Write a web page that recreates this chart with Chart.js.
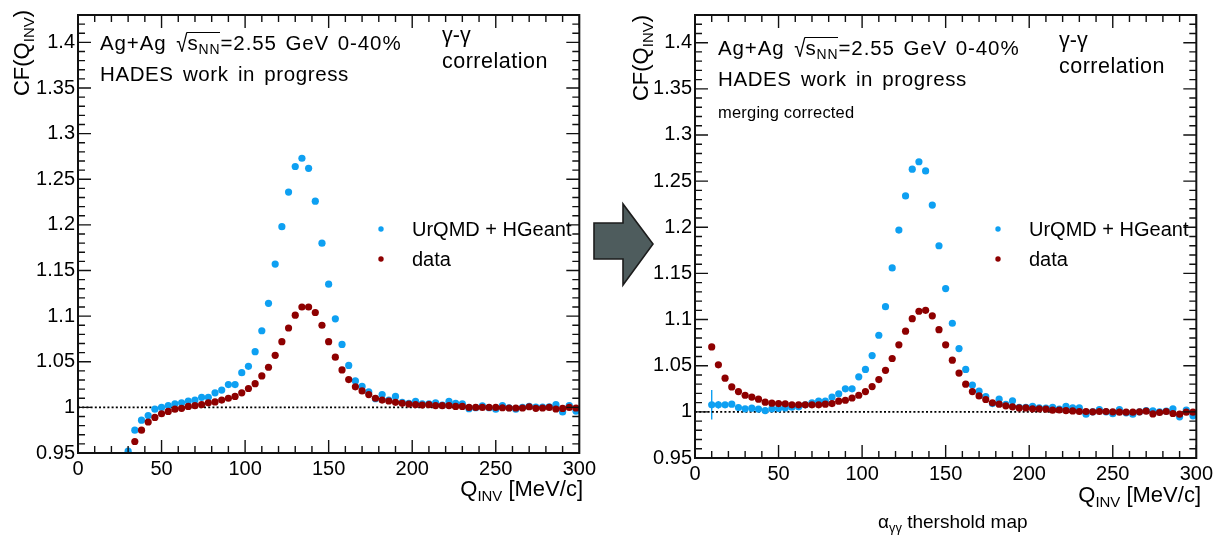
<!DOCTYPE html>
<html>
<head>
<meta charset="utf-8">
<script src="https://cdn.jsdelivr.net/npm/chart.js@4/dist/chart.umd.min.js"></script>
<style>
  html, body { margin: 0; padding: 0; background: #fff; }
  #wrap { position: relative; width: 1217px; height: 535px; overflow: hidden; background: #fff; font-family: "Liberation Sans", Arial, sans-serif; color: #000; }
  canvas { position: absolute; top: 0; }
  .t { position: absolute; white-space: nowrap; }
  .t sub { font-size: 0.68em; vertical-align: -0.32em; line-height: 0; }
  .rad { display: inline-block; transform: scaleY(1.2) translateY(0.04em); margin-left: 1px; }
  .ov { display: inline-block; border-top: 1px solid #000; line-height: 1; padding-top: 0px; margin-left: -1px; }
  #arrow { position: absolute; left: 0; top: 0; }
</style>
</head>
<body>
<div id="wrap">
  <canvas id="cLeft" width="600" height="535" style="left:0px"></canvas>
  <canvas id="cRight" width="607" height="535" style="left:610px"></canvas>
  <svg id="arrow" width="1217" height="535">
    <polygon points="594,223 623,223 623,204 653,244 623,285 623,259 594,259"
             fill="#4e5c5d" stroke="#1c1c1c" stroke-width="1.6" stroke-linejoin="miter"/>
  </svg>
</div>
<script>
// Q_inv bin centres [MeV/c], 4 MeV/c bins
const qBins = [10, 14, 18, 22, 26, 30, 34, 38, 42, 46, 50, 54, 58, 62, 66, 70, 74, 78, 82, 86,
  90, 94, 98, 102, 106, 110, 114, 118, 122, 126, 130, 134, 138, 142, 146, 150, 154, 158, 162, 166,
  170, 174, 178, 182, 186, 190, 194, 198, 202, 206, 210, 214, 218, 222, 226, 230, 234, 238, 242, 246,
  250, 254, 258, 262, 266, 270, 274, 278, 282, 286, 290, 294, 298];

// Left panel: uncorrected CF, bins from 30 MeV/c upward
const qBinsLeft = qBins.slice(5);
const urqmdLeft = [0.952, 0.975, 0.986, 0.991, 0.998, 1.000, 1.002, 1.004, 1.005, 1.007,
  1.008, 1.011, 1.011, 1.016, 1.019, 1.025, 1.025, 1.038, 1.045, 1.061,
  1.084, 1.114, 1.157, 1.198, 1.236, 1.264, 1.273, 1.262, 1.226, 1.180,
  1.135, 1.097, 1.069, 1.046, 1.029, 1.023, 1.017, 1.0095, 1.014, 1.008,
  1.012, 1.0055, 1.0044, 1.0065, 1.004, 1.004, 1.005, 1.0025, 1.0065, 1.0044,
  1.004, 0.9985, 0.9996, 1.0018, 0.9996, 0.998, 1.002, 0.9996, 0.998, 1.000,
  1.001, 1.0004, 1.0004, 1.0007, 1.003, 0.995, 1.002, 0.996];
const dataLeft = [null, 0.9626, 0.975, 0.984, 0.989, 0.993, 0.9956, 0.998, 0.999, 1.001,
  1.002, 1.003, 1.005, 1.006, 1.008, 1.010, 1.012, 1.016, 1.0207, 1.026,
  1.0345, 1.044, 1.057, 1.072, 1.087, 1.101, 1.110, 1.110, 1.104, 1.090,
  1.072, 1.055, 1.041, 1.0305, 1.0225, 1.018, 1.014, 1.010, 1.008, 1.007,
  1.0055, 1.0044, 1.0036, 1.003, 1.0025, 1.003, 1.002, 1.002, 1.002, 1.001,
  1.001, 1.000, 1.000, 1.000, 1.000, 1.000, 0.9996, 0.9993, 0.9993, 0.9993,
  1.0007, 0.999, 0.9993, 1.000, 0.9982, 0.9989, 1.000, 0.9993];

// Right panel: merging corrected CF, all bins from 10 MeV/c
const urqmdRight = [1.0076, 1.0076, 1.0076, 1.0083, 1.0047, 1.0033, 1.004, 1.003, 1.0014, 1.0033,
  1.0036, 1.0043, 1.005, 1.0055, 1.0076, 1.0098, 1.0116, 1.0116, 1.016, 1.0195,
  1.025, 1.025, 1.038, 1.046, 1.061, 1.083, 1.114, 1.156, 1.197, 1.234,
  1.263, 1.271, 1.261, 1.224, 1.180, 1.1336, 1.096, 1.0686, 1.046, 1.029,
  1.0224, 1.0166, 1.009, 1.0137, 1.008, 1.012, 1.005, 1.005, 1.006, 1.0043,
  1.004, 1.005, 1.003, 1.006, 1.0043, 1.0043, 0.9975, 1.000, 1.0025, 1.000,
  0.998, 1.0025, 0.999, 0.9975, 1.000, 1.0014, 1.001, 1.000, 1.0007, 1.0033,
  0.9946, 1.002, 0.9957];
const urqmdErrRight = [0.016, 0.004, 0.002];
const dataRight = [1.0704, 1.051, 1.0365, 1.027, 1.022, 1.018, 1.016, 1.0137, 1.0105, 1.0094,
  1.009, 1.0087, 1.0076, 1.0076, 1.0076, 1.0076, 1.0076, 1.0083, 1.009, 1.0116,
  1.0126, 1.015, 1.018, 1.022, 1.0274, 1.035, 1.045, 1.0578, 1.0726, 1.0874,
  1.101, 1.109, 1.110, 1.104, 1.089, 1.0726, 1.056, 1.042, 1.030, 1.022,
  1.0173, 1.0134, 1.0098, 1.0083, 1.0065, 1.0054, 1.0043, 1.0043, 1.0033, 1.0033,
  1.003, 1.0018, 1.002, 1.0014, 1.001, 1.0004, 1.0004, 1.000, 1.0004, 1.0004,
  1.000, 0.9996, 0.9996, 0.9996, 1.000, 1.0007, 0.9978, 0.9993, 1.0004, 0.9982,
  0.9975, 0.9996, 0.9996];

// axis ticks
const xTicks = [0, 50, 100, 150, 200, 250, 300];
const yTicks = [0.95, 1, 1.05, 1.1, 1.15, 1.2, 1.25, 1.3, 1.35, 1.4];
const xRange = [0, 300];
const yRange = [0.95, 1.43];
const unityLevel = 1;

const BLUE = 'rgb(14,160,242)';
const RED = 'rgb(142,0,0)';
const FONT = '"Liberation Sans", Arial, sans-serif';

// ROOT-style frame with inward major/minor ticks on all four sides
const framePlugin = {
  id: 'rootFrame',
  afterDatasetsDraw(chart) {
    const { ctx, chartArea: a, scales } = chart;
    const xs = scales.x, ys = scales.y;
    const majL = 13, minL = 7;
    ctx.save();
    ctx.strokeStyle = '#111';
    ctx.lineWidth = 1.4;
    ctx.beginPath();
    for (let i = 0; i < xTicks.length; i++) {
      const v = xTicks[i];
      const px = xs.getPixelForValue(v);
      ctx.moveTo(px, a.bottom); ctx.lineTo(px, a.bottom - majL);
      ctx.moveTo(px, a.top); ctx.lineTo(px, a.top + majL);
      if (i < xTicks.length - 1) {
        const step = (xTicks[i + 1] - v) / 5;
        for (let k = 1; k < 5; k++) {
          const pm = xs.getPixelForValue(v + k * step);
          ctx.moveTo(pm, a.bottom); ctx.lineTo(pm, a.bottom - minL);
          ctx.moveTo(pm, a.top); ctx.lineTo(pm, a.top + minL);
        }
      }
    }
    const yStep = (yTicks[1] - yTicks[0]) / 5;
    for (let k = 0; yTicks[0] + k * yStep <= yRange[1] + 1e-9; k++) {
      const py = ys.getPixelForValue(yTicks[0] + k * yStep);
      const L = (k % 5 === 0) ? majL : minL;
      ctx.moveTo(a.left, py); ctx.lineTo(a.left + L, py);
      ctx.moveTo(a.right, py); ctx.lineTo(a.right - L, py);
    }
    ctx.stroke();
    ctx.lineWidth = 2;
    ctx.strokeRect(a.left, a.top, a.right - a.left, a.bottom - a.top);
    ctx.restore();
  }
};

// vertical error bars for datasets carrying an `errors` array
const errorBarPlugin = {
  id: 'errorBars',
  beforeDatasetsDraw(chart) {
    const { ctx, scales } = chart;
    ctx.save();
    chart.data.datasets.forEach(ds => {
      if (!ds.errors) return;
      ctx.strokeStyle = ds.borderColor;
      ctx.lineWidth = 1.4;
      ds.errors.forEach((e, i) => {
        const p = ds.data[i];
        if (!p || p.y == null || !e) return;
        const px = scales.x.getPixelForValue(p.x);
        ctx.beginPath();
        ctx.moveTo(px, scales.y.getPixelForValue(p.y - e));
        ctx.lineTo(px, scales.y.getPixelForValue(p.y + e));
        ctx.stroke();
      });
    });
    ctx.restore();
  }
};

// legend drawn inside the frame: marker + label for each point series
const legendPlugin = {
  id: 'innerLegend',
  afterDraw(chart) {
    const { ctx, chartArea: a } = chart;
    ctx.save();
    ctx.font = '20px ' + FONT;
    ctx.textBaseline = 'alphabetic';
    const rows = chart.data.datasets.filter(d => d.inLegend);
    rows.forEach((d, i) => {
      const cy = a.top + 214 + i * 30;
      ctx.beginPath();
      ctx.fillStyle = d.backgroundColor;
      ctx.arc(a.left + 303, cy, 2.7, 0, Math.PI * 2);
      ctx.fill();
      ctx.fillStyle = '#000';
      ctx.fillText(d.label, a.left + 334, cy + 7);
    });
    ctx.restore();
  }
};

function fmt(v) { return String(+v.toFixed(2)); }

function makePanel(id, q, urqmd, data, errs, geom) {
  const pts = arr => q.map((x, i) => ({ x, y: arr[i] }));
  const datasets = [
    { label: 'UrQMD + HGeant', data: pts(urqmd), backgroundColor: BLUE, borderColor: BLUE,
      pointRadius: 3.6, pointBorderWidth: 0, order: 2, inLegend: true, errors: errs },
    { label: 'data', data: pts(data), backgroundColor: RED, borderColor: RED,
      pointRadius: 3.6, pointBorderWidth: 0, order: 1, inLegend: true },
    { type: 'line', label: 'CF = 1', data: [{ x: xRange[0], y: unityLevel }, { x: xRange[1], y: unityLevel }],
      borderColor: '#000', borderWidth: 1.7, borderDash: [2, 2.2], pointRadius: 0, showLine: true, order: 3 }
  ];
  return new Chart(document.getElementById(id), {
    type: 'scatter',
    data: { datasets },
    options: {
      responsive: false, animation: false, devicePixelRatio: 1,
      layout: { padding: { top: geom.top, right: geom.right, left: 0, bottom: 0 } },
      plugins: { legend: { display: false }, tooltip: { enabled: false } },
      scales: {
        x: {
          type: 'linear', min: xRange[0], max: xRange[1],
          afterFit: s => { s.height = geom.xh; },
          afterBuildTicks: s => { s.ticks = xTicks.map(v => ({ value: v })); },
          grid: { display: false, drawTicks: false }, border: { display: false },
          ticks: { font: { family: FONT, size: 20 }, color: '#000', padding: 4, maxRotation: 0, autoSkip: false }
        },
        y: {
          type: 'linear', min: yRange[0], max: yRange[1],
          afterFit: s => { s.width = geom.yw; },
          afterBuildTicks: s => { s.ticks = yTicks.map(v => ({ value: v })); },
          grid: { display: false, drawTicks: false }, border: { display: false },
          ticks: { font: { family: FONT, size: 20 }, color: '#000', padding: 3, autoSkip: false, callback: v => fmt(v) }
        }
      }
    },
    plugins: [errorBarPlugin, framePlugin, legendPlugin]
  });
}

makePanel('cLeft', qBinsLeft, urqmdLeft, dataLeft, null, { top: 10, right: 17, xh: 82, yw: 78 });
makePanel('cRight', qBins, urqmdRight, dataRight, urqmdErrRight, { top: 15, right: 16, xh: 77, yw: 85 });

// text labels (HTML, placed by baseline)
const wrap = document.getElementById('wrap');
function addText(html, x, baseline, size, extra) {
  const d = document.createElement('div');
  d.className = 't';
  d.innerHTML = html;
  d.style.fontSize = size + 'px';
  d.style.lineHeight = size + 'px';
  d.style.left = x + 'px';
  d.style.top = (baseline - 0.8465 * size) + 'px';
  if (extra) Object.assign(d.style, extra);
  wrap.appendChild(d);
  return d;
}
function addYTitle(x, topEnd, size) {
  const W = 140;
  return addText('CF(Q<sub>INV</sub>)', 0, 0, size, {
    width: W + 'px', textAlign: 'right', left: x + 'px', top: (topEnd + W) + 'px',
    transform: 'rotate(-90deg)', transformOrigin: '0 0'
  });
}
function addXTitle(right, baseline, size) {
  const W = 200;
  addText('Q<sub>INV</sub> [MeV/c]', right - W, baseline, size, { width: W + 'px', textAlign: 'right' });
}

const systemLabel = 'Ag+Ag <span class="rad">√</span><span class="ov">s<sub>NN</sub></span>=2.55 GeV 0-40%';
const statusLabel = 'HADES work in progress';
const channelLabel = ['γ-γ', 'correlation'];

// left panel
addText(systemLabel, 100, 49, 20.5, { letterSpacing: '0.9px', wordSpacing: '2px' });
addText(statusLabel, 100, 81, 20.5, { letterSpacing: '0.6px', wordSpacing: '3px' });
addText(channelLabel[0], 442, 43, 21.5);
addText(channelLabel[1], 442, 69.5, 21.5, { letterSpacing: '0.5px' });
addYTitle(11, 10, 22);
addXTitle(583, 497, 22);

// right panel
addText(systemLabel, 718, 54, 20.5, { letterSpacing: '0.9px', wordSpacing: '2px' });
addText(statusLabel, 718, 86, 20.5, { letterSpacing: '0.6px', wordSpacing: '3px' });
addText('merging corrected', 718, 118, 16.5, { letterSpacing: '0.2px' });
addText(channelLabel[0], 1059, 48, 21.5);
addText(channelLabel[1], 1059, 74.5, 21.5, { letterSpacing: '0.5px' });
addYTitle(630, 15, 22);
addXTitle(1201, 503, 22);
addText('α<sub>γγ</sub> thershold map', 878, 528, 19);
</script>
</body>
</html>
